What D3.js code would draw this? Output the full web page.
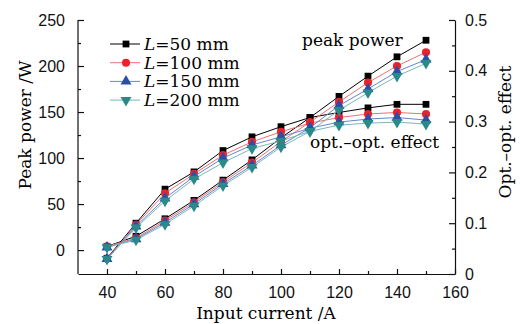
<!DOCTYPE html>
<html>
<head>
<meta charset="utf-8">
<script src="https://cdn.jsdelivr.net/npm/d3@7"></script>
<style>
  body { margin: 0; background: #fff; }
  svg { font-family: "DejaVu Serif", serif; }
  .tick text { font-size: 16px; fill: #111; }
  .domain, .tick line { stroke: #111; stroke-width: 1.2; }
</style>
</head>
<body>
<div id="chart"></div>
<script>
// data
var current = [40, 50, 60, 70, 80, 90, 100, 110, 120, 130, 140, 150];
var lengths = ["50", "100", "150", "200"];

var peak50  = [4, 15, 34, 54, 76, 98, 122, 144, 167, 189, 210, 228];
var peak100 = [4, 13, 32, 52, 74, 95, 118, 139, 161, 182, 200, 215];
var peak150 = [3, 12, 30, 50, 72, 92, 114, 133, 157, 175, 194, 207];
var peak200 = [3, 11, 28, 48, 70, 90, 112, 129, 152, 171, 189, 203];

var eff50  = [0.031, 0.100, 0.167, 0.201, 0.243, 0.270, 0.290, 0.308, 0.318, 0.327, 0.334, 0.334];
var eff100 = [0.030, 0.097, 0.159, 0.197, 0.234, 0.260, 0.280, 0.297, 0.308, 0.315, 0.318, 0.315];
var eff150 = [0.030, 0.094, 0.149, 0.192, 0.228, 0.254, 0.270, 0.287, 0.299, 0.305, 0.308, 0.303];
var eff200 = [0.029, 0.091, 0.144, 0.187, 0.219, 0.247, 0.262, 0.281, 0.293, 0.297, 0.299, 0.295];

var xTicks = [40, 60, 80, 100, 120, 140, 160];
var leftTicks = [0, 50, 100, 150, 200, 250];
var rightTicks = [0, 0.1, 0.2, 0.3, 0.4, 0.5];

var peaks = [peak50, peak100, peak150, peak200];
var effs = [eff50, eff100, eff150, eff200];
var markerColor = ["#000000", "#e8232b", "#2b4fa8", "#2a8a8a"];
var lineColor = ["#000000", "#f07070", "#6a84cc", "#78b8b8"];
var symbols = [d3.symbolSquare, d3.symbolCircle, d3.symbolTriangle, d3.symbolTriangle];

var width = 520, height = 324;
var svg = d3.select("#chart").append("svg")
  .attr("width", width)
  .attr("height", height);

var x = d3.scaleLinear().domain([30, 160]).range([78, 455]);
var yL = d3.scaleLinear().domain([-26, 250]).range([274, 20]);
var yR = d3.scaleLinear().domain([0, 0.5]).range([274, 20]);

// axes (ticks point inward)
var gx = svg.append("g").attr("transform", "translate(0,274)");
gx.call(d3.axisBottom(x).tickValues(xTicks).tickSizeInner(-5).tickSizeOuter(0).tickPadding(13));
gx.append("g").call(d3.axisBottom(x).tickValues([50, 70, 90, 110, 130, 150]).tickSize(-3).tickFormat(""))
  .select(".domain").remove();

var gl = svg.append("g").attr("transform", "translate(78,0)");
gl.call(d3.axisLeft(yL).tickValues(leftTicks).tickSizeInner(-6).tickSizeOuter(0).tickPadding(13));
gl.append("g").call(d3.axisLeft(yL).tickValues([25, 75, 125, 175, 225]).tickSize(-3).tickFormat(""))
  .select(".domain").remove();
gl.select(".domain").attr("d", "M0," + yL(250) + "V274");

var gr = svg.append("g").attr("transform", "translate(455,0)");
gr.call(d3.axisRight(yR).tickValues(rightTicks).tickSizeInner(-6).tickSizeOuter(0).tickPadding(10)
  .tickFormat(function(d) { return d === 0 ? "0" : d3.format(".1f")(d); }));
gr.append("g").call(d3.axisRight(yR).tickValues([0.05, 0.15, 0.25, 0.35, 0.45]).tickSize(-3).tickFormat(""))
  .select(".domain").remove();
gr.selectAll(".tick text").attr("dy", "0.32em");

// axis titles
svg.append("text")
  .attr("transform", "translate(31,125) rotate(-90)")
  .attr("text-anchor", "middle")
  .style("font-size", "17px")
  .text("Peak power /W");

svg.append("text")
  .attr("transform", "translate(511,132) rotate(-90)")
  .attr("text-anchor", "middle")
  .style("font-size", "17px")
  .text("Opt.\u2013opt. effect");

svg.append("text")
  .attr("x", 266).attr("y", 319)
  .attr("text-anchor", "middle")
  .style("font-size", "17px")
  .text("Input current /A");

// series
function drawSeries(vals, ys, i) {
  var pts = current.map(function(c, j) { return [x(c), ys(vals[j])]; });
  svg.append("path")
    .attr("fill", "none")
    .attr("stroke", lineColor[i])
    .attr("stroke-width", 1)
    .attr("d", d3.line()(pts));
  svg.append("g").selectAll("path")
    .data(pts)
    .enter().append("path")
    .attr("transform", function(d) {
      return "translate(" + d[0] + "," + d[1] + ")" + (i === 3 ? " rotate(180)" : "");
    })
    .attr("d", d3.symbol().type(symbols[i]).size(i === 0 ? 46 : 52))
    .attr("fill", markerColor[i]);
}

for (var i = 0; i < 4; i++) {
  drawSeries(peaks[i], yL, i);
  drawSeries(effs[i], yR, i);
}

// annotations
svg.append("text").attr("x", 302).attr("y", 46)
  .style("font-size", "17px").text("peak power");
svg.append("text").attr("x", 310).attr("y", 148)
  .style("font-size", "17px").text("opt.\u2013opt. effect");

// legend
var legend = svg.append("g");
lengths.forEach(function(l, i) {
  var ly = 44 + i * 18.7;
  legend.append("line")
    .attr("x1", 110).attr("x2", 140).attr("y1", ly).attr("y2", ly)
    .attr("stroke", lineColor[i]).attr("stroke-width", 1);
  legend.append("path")
    .attr("transform", "translate(126," + ly + ")" + (i === 3 ? " rotate(180)" : ""))
    .attr("d", d3.symbol().type(symbols[i]).size(i === 0 ? 46 : 52))
    .attr("fill", markerColor[i]);
  var t = legend.append("text")
    .attr("x", 144).attr("y", ly + 6)
    .style("font-size", "17px");
  t.append("tspan").style("font-style", "italic").text("L");
  t.append("tspan").text("=" + l + " mm");
});
</script>
</body>
</html>
